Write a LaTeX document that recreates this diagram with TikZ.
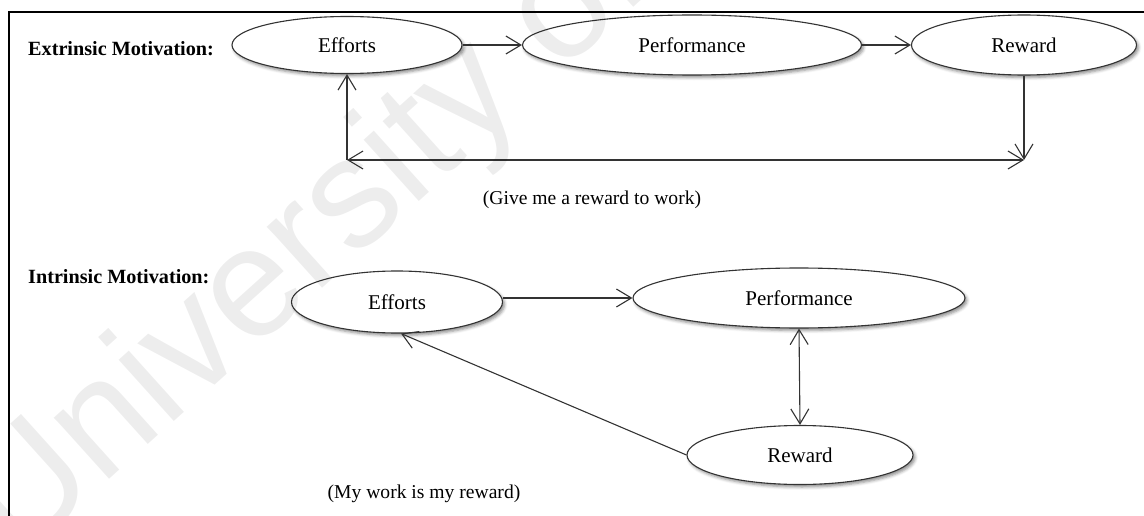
\documentclass[tikz,border=0pt]{standalone}
\usepackage{fontspec}
\setmainfont{Liberation Serif}
\newfontfamily\wmfont{Liberation Sans}
\usetikzlibrary{arrows.meta,shapes.geometric,shadows.blur}

\tikzset{
  oval/.style={ellipse, draw=black!80, line width=1.1pt, fill=white, inner sep=0pt,
    font=\fontsize{21}{21}\selectfont,
    blur shadow={shadow xshift=2pt, shadow yshift=-2.5pt, shadow blur radius=3pt, shadow opacity=45}},
  heading/.style={anchor=west, inner sep=0pt, font=\fontsize{20.2}{21}\selectfont\bfseries},
  caption/.style={inner sep=0pt, font=\fontsize{19.6}{20}\selectfont},
  conn/.style={draw=black!80, line width=1.1pt},
  tip/.style={-{Straight Barb[length=15pt,width=18pt,line width=1.1pt]}},
  tips/.style={{Straight Barb[length=15pt,width=18pt,line width=1.1pt]}-{Straight Barb[length=15pt,width=18pt,line width=1.1pt]}},
  frame/.style={draw=black, line width=1.8pt},
  watermark/.style={font=\wmfont\fontsize{156}{156}\selectfont, text=black, opacity=0.07, inner sep=0pt}
}

\begin{document}
\begin{tikzpicture}[x=1pt,y=-1pt]
\useasboundingbox (0,0) rectangle (1144,516);

% frame (top and left edges)
\coordinate (fl) at (9,516);
\coordinate (fc) at (9,12);
\coordinate (fr) at (1144,12);
\draw[frame] (fl) -- (fc) -- (fr);

% extrinsic motivation
\node[heading] (ext) at (28,49) {Extrinsic Motivation:};
\node[oval, minimum width=230pt, minimum height=57pt] (e1) at (347,45) {Efforts};
\node[oval, minimum width=339pt, minimum height=60pt] (p1) at (692,45) {Performance};
\node[oval, minimum width=225pt, minimum height=60pt] (r1) at (1024,45) {Reward};
\coordinate (c1) at (1024,160);
\coordinate (c2) at (347,160);
\draw[conn,tip] (e1) -- (p1);
\draw[conn,tip] (p1) -- (r1);
\draw[conn,tip] (r1.south) -- (c1);
\draw[conn,tips] (c2) -- (c1);
\draw[conn,tip] (c2) -- (e1.south);
\node[caption] (cap1) at (592,200) {(Give me a reward to work)};

% intrinsic motivation
\node[heading] (int) at (28,277) {Intrinsic Motivation:};
\node[oval, minimum width=211pt, minimum height=62pt] (e2) at (397,302) {Efforts};
\node[oval, minimum width=332pt, minimum height=60pt] (p2) at (799,298) {Performance};
\node[oval, minimum width=226pt, minimum height=59pt] (r2) at (800,455) {Reward};
\draw[conn,tip] (e2.east |- p2.west) -- (p2.west);
\draw[conn,tips] (p2.south) -- (r2.north);
\draw[conn,tip] (r2.west) -- ([xshift=4pt]e2.south);
\node[caption] (cap2) at (424,494) {(My work is my reward)};

% watermark
\node[watermark, rotate=42, anchor=base west] (wm) at (18,562) {University of};
\end{tikzpicture}
\end{document}
